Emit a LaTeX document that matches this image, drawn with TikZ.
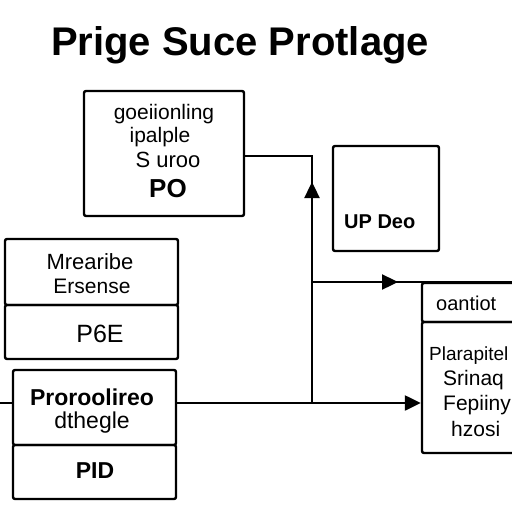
\documentclass[tikz,border=0pt]{standalone}
\usepackage{fontspec}
\setmainfont{Liberation Sans}
\usepackage{tikz}
\usetikzlibrary{calc}
\usetikzlibrary{arrows.meta,decorations.markings}

\tikzset{
	box/.style={draw, line width=2.4pt, rounded corners=2pt, inner sep=0pt},
	txt/.style={inner sep=0pt, anchor=base},
	tip/.style={-{Triangle[length=16pt,width=15pt]}},
	midtip/.style={postaction={decorate},
		decoration={markings, mark=at position #1 with {\arrow{Triangle[length=16pt,width=15pt]}}}},
}

\begin{document}
\begin{tikzpicture}[x=1pt,y=-1pt,line width=2.4pt]
	\useasboundingbox (0,0) rectangle (512,512);
	\clip (0,0) rectangle (512,512);

	\node[txt] (title) at (240,55) {\fontsize{40}{42}\selectfont\bfseries Prige Suce Protlage};

	% boxes
	\node[box, minimum width=160pt, minimum height=125pt] (src) at (164,153.5) {};
	\node[box, minimum width=106pt, minimum height=105pt] (upd) at (386,198.5) {};
	\node[box, minimum width=173pt, minimum height=66pt] (meas) at (91.5,272) {};
	\node[box, minimum width=173pt, minimum height=54pt] (measb) at (91.5,332) {};
	\node[box, minimum width=163pt, minimum height=75pt] (proc) at (94.5,407.5) {};
	\node[box, minimum width=163pt, minimum height=54pt] (procb) at (94.5,472) {};
	\node[box, minimum width=118pt, minimum height=39pt] (ctrl) at (481,302.5) {};
	\node[box, minimum width=118pt, minimum height=131pt] (ctrlb) at (481,387.5) {};

	% texts
	\node[txt] (s1) at (164,119) {\fontsize{21}{22}\selectfont goeiionling};
	\node[txt] (s2) at (160,142) {\fontsize{21}{22}\selectfont ipalple};
	\node[txt] (s3) at (168,167) {\fontsize{22}{22}\selectfont S uroo};
	\node[txt] (s4) at (168,197) {\fontsize{26}{28}\selectfont\bfseries PO};

	\node[txt, anchor=base west] (u1) at (343,228) {\fontsize{20}{22}\selectfont\bfseries UP Deo};

	\node[txt] (m1) at (90,269) {\fontsize{22}{22}\selectfont Mrearibe};
	\node[txt] (m2) at (92,293) {\fontsize{21}{22}\selectfont Ersense};
	\node[txt] (m3) at (100,342) {\fontsize{25}{26}\selectfont P6E};

	\node[txt] (p1) at (92,405) {\fontsize{23}{24}\selectfont\bfseries Proroolireo};
	\node[txt] (p2) at (92,428) {\fontsize{23}{24}\selectfont dthegle};
	\node[txt] (p3) at (95,478) {\fontsize{23}{24}\selectfont\bfseries PID};

	\node[txt, anchor=base west] (c1) at (435,310) {\fontsize{20}{22}\selectfont oantiot};
	\node[txt, anchor=base west] (c2) at (428,360) {\fontsize{19}{22}\selectfont Plarapitel};
	\node[txt, anchor=base west] (c3) at (442,385) {\fontsize{21}{22}\selectfont Srinaq};
	\node[txt, anchor=base west] (c4) at (442,410) {\fontsize{21}{22}\selectfont Fepiiny};
	\node[txt, anchor=base west] (c5) at (450,436) {\fontsize{21}{22}\selectfont hzosi};

	% connectors
	\coordinate (jn) at (312,403);
	\coordinate (tc) at (312,156);
	\coordinate (mc) at (312,282);
	\coordinate (re) at (520,282);
	\coordinate (le) at (-5,403);

	\draw[midtip=221pt] (jn) -- (tc) -- (tc -| src.east);
	\draw[midtip=86pt] (mc) -- (re);
	\draw (le) -- (le -| proc.west);
	\draw[tip] (jn -| proc.east) -- (jn) -- (jn -| ctrlb.west);

\end{tikzpicture}
\end{document}
